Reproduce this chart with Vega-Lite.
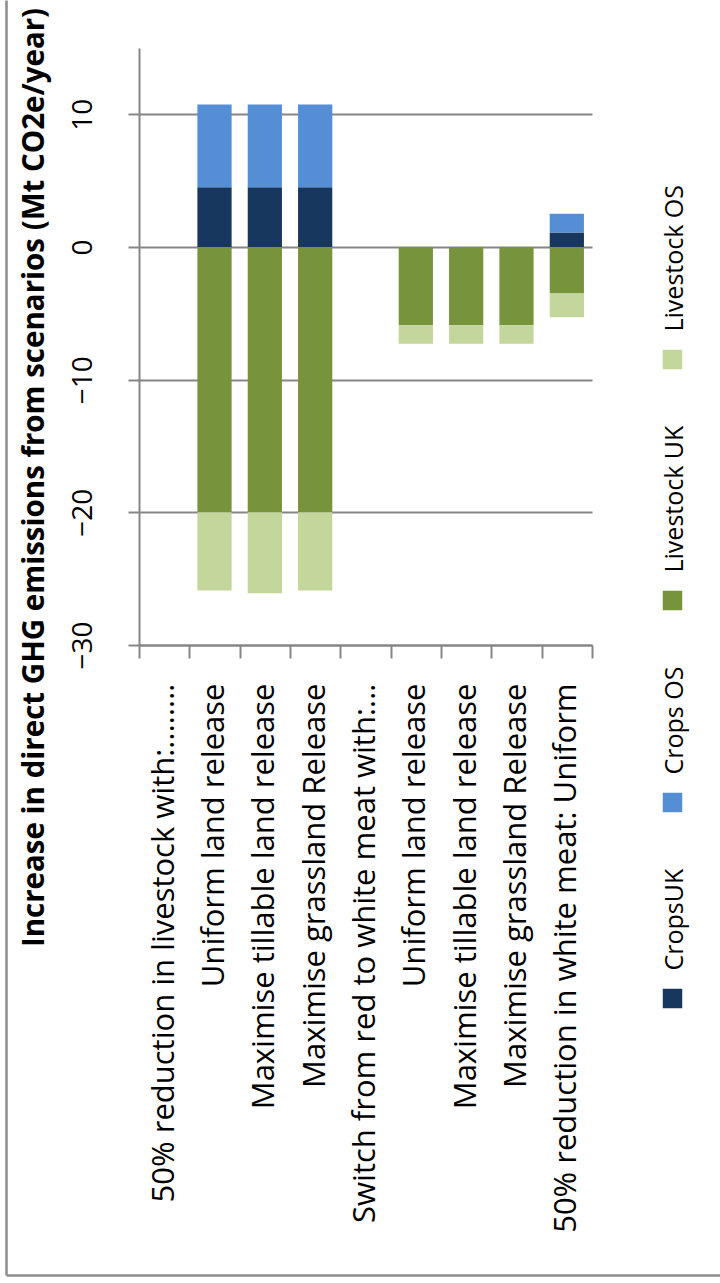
{
  "$schema": "https://vega.github.io/schema/vega-lite/v6.json",
  "width": 453,
  "height": 597,
  "autosize": "none",
  "padding": {"left": 139, "top": 48, "right": 128, "bottom": 638},
  "background": "white",
  "data": {
    "values": [
      {"scenario": "A|Uniform land release", "series": "CropsUK", "value": 4.5},
      {"scenario": "A|Uniform land release", "series": "Crops OS", "value": 6.25},
      {"scenario": "A|Uniform land release", "series": "Livestock UK", "value": -20.0},
      {"scenario": "A|Uniform land release", "series": "Livestock OS", "value": -5.9},
      {"scenario": "A|Maximise tillable land release", "series": "CropsUK", "value": 4.5},
      {"scenario": "A|Maximise tillable land release", "series": "Crops OS", "value": 6.25},
      {"scenario": "A|Maximise tillable land release", "series": "Livestock UK", "value": -20.0},
      {"scenario": "A|Maximise tillable land release", "series": "Livestock OS", "value": -6.1},
      {"scenario": "A|Maximise grassland Release", "series": "CropsUK", "value": 4.5},
      {"scenario": "A|Maximise grassland Release", "series": "Crops OS", "value": 6.25},
      {"scenario": "A|Maximise grassland Release", "series": "Livestock UK", "value": -20.0},
      {"scenario": "A|Maximise grassland Release", "series": "Livestock OS", "value": -5.9},
      {"scenario": "B|Uniform land release", "series": "Livestock UK", "value": -5.9},
      {"scenario": "B|Uniform land release", "series": "Livestock OS", "value": -1.4},
      {"scenario": "B|Maximise tillable land release", "series": "Livestock UK", "value": -5.9},
      {"scenario": "B|Maximise tillable land release", "series": "Livestock OS", "value": -1.4},
      {"scenario": "B|Maximise grassland Release", "series": "Livestock UK", "value": -5.9},
      {"scenario": "B|Maximise grassland Release", "series": "Livestock OS", "value": -1.4},
      {"scenario": "C|50% reduction in white meat: Uniform", "series": "CropsUK", "value": 1.1},
      {"scenario": "C|50% reduction in white meat: Uniform", "series": "Crops OS", "value": 1.4},
      {"scenario": "C|50% reduction in white meat: Uniform", "series": "Livestock UK", "value": -3.5},
      {"scenario": "C|50% reduction in white meat: Uniform", "series": "Livestock OS", "value": -1.8}
    ]
  },
  "layer": [
    {
      "mark": {"type": "bar", "width": {"band": 0.68}},
      "encoding": {
        "x": {
          "field": "scenario",
          "type": "nominal",
          "sort": null,
          "scale": {
            "domain": [
              "A|50% reduction in livestock with:........",
              "A|Uniform land release",
              "A|Maximise tillable land release",
              "A|Maximise grassland Release",
              "B|Switch from red to white meat with:...",
              "B|Uniform land release",
              "B|Maximise tillable land release",
              "B|Maximise grassland Release",
              "C|50% reduction in white meat: Uniform"
            ],
            "paddingInner": 0,
            "paddingOuter": 0
          },
          "axis": {
            "title": null,
            "labelExpr": "split(datum.value, '|')[1]",
            "labelAngle": -90,
            "labelAlign": "right",
            "labelBaseline": "middle",
            "labelFont": "Open Sans",
            "labelFontSize": 31,
            "labelColor": "black",
            "labelPadding": 25,
            "labelLimit": 0,
            "labelOverlap": false,
            "tickBand": "extent",
            "tickSize": 13,
            "tickColor": "#868686",
            "tickWidth": 2,
            "domainColor": "#868686",
            "domainWidth": 2,
            "grid": false
          }
        },
        "y": {
          "field": "value",
          "type": "quantitative",
          "stack": "zero",
          "scale": {"domain": [-30, 15], "nice": false, "zero": false},
          "axis": {
            "values": [-30, -20, -10, 0, 10],
            "title": "Increase in direct GHG emissions from scenarios (Mt CO2e/year)",
            "titleFont": "Open Sans",
            "titleFontSize": 29.5,
            "titleFontWeight": "bold",
            "titleColor": "black",
            "titleAngle": -90,
            "titleAlign": "center",
            "titleBaseline": "alphabetic",
            "titleX": -96,
            "titleY": 429,
            "labelAngle": -90,
            "labelAlign": "center",
            "labelBaseline": "alphabetic",
            "labelFont": "Open Sans",
            "labelFontSize": 28,
            "labelColor": "black",
            "labelPadding": 37,
            "tickSize": 11,
            "tickColor": "#868686",
            "tickWidth": 2,
            "domainColor": "#868686",
            "domainWidth": 2,
            "grid": true,
            "gridColor": "#868686",
            "gridWidth": 2
          }
        },
        "color": {
          "field": "series",
          "type": "nominal",
          "scale": {
            "domain": ["Livestock OS", "Livestock UK", "Crops OS", "CropsUK"],
            "range": ["#C3D69B", "#77933C", "#558ED5", "#17375E"]
          },
          "legend": {
            "orient": "none",
            "legendX": 521,
            "legendY": 299,
            "direction": "vertical",
            "title": null,
            "padding": 0,
            "symbolType": "square",
            "symbolSize": 380,
            "symbolStrokeWidth": 0,
            "symbolOpacity": 1,
            "labelFont": "Open Sans",
            "labelFontSize": 25,
            "labelColor": "black",
            "labelOffset": -10,
            "labelLimit": 0,
            "rowPadding": 55,
            "encode": {
              "labels": {
                "update": {
                  "angle": {"value": -90},
                  "align": {"value": "left"},
                  "baseline": {"value": "middle"},
                  "dx": {"value": 28}
                }
              }
            }
          }
        },
        "order": {"field": "series", "sort": "descending"}
      }
    },
    {
      "mark": {"type": "point", "opacity": 0, "size": 0},
      "encoding": {
        "x": {
          "field": "value",
          "type": "quantitative",
          "scale": {"domain": [0, 1], "range": [-133, 581], "nice": false, "zero": false},
          "axis": {"orient": "bottom", "offset": 630, "title": null, "labels": false, "ticks": false, "grid": false, "domainColor": "#8c8c8c", "domainWidth": 2.5}
        },
        "y": {
          "field": "value",
          "type": "quantitative",
          "scale": {"domain": [0, 1], "range": [1227, -48], "nice": false, "zero": false},
          "axis": {"orient": "left", "offset": 133, "title": null, "labels": false, "ticks": false, "grid": false, "domainColor": "#8c8c8c", "domainWidth": 2.5}
        }
      }
    }
  ],
  "resolve": {
    "scale": {"x": "independent", "y": "independent"},
    "axis": {"x": "independent", "y": "independent"}
  },
  "config": {"view": {"stroke": null}}
}
